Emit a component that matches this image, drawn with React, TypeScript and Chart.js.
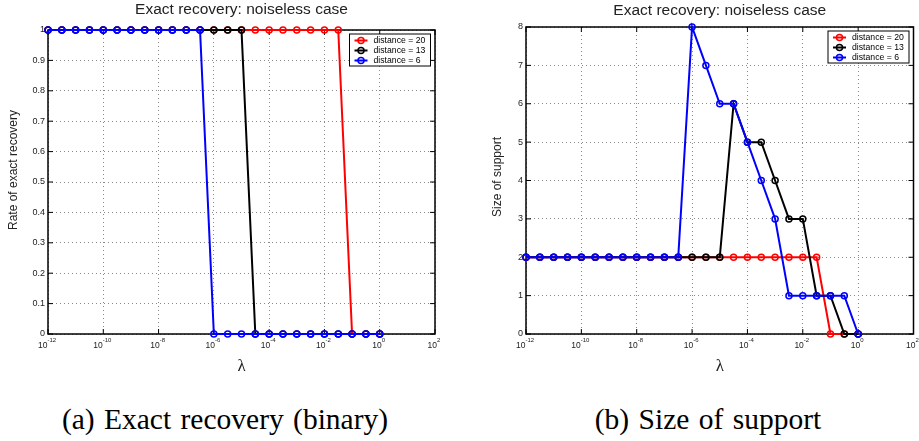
import React, { useEffect, useRef } from 'react';
import { Chart, registerables } from 'chart.js';

Chart.register(...registerables);

// ---------------- data ----------------
const lambdaExponents = [-12, -11.5, -11, -10.5, -10, -9.5, -9, -8.5, -8, -7.5, -7, -6.5, -6, -5.5, -5, -4.5, -4, -3.5, -3, -2.5, -2, -1.5, -1, -0.5, 0];

const seriesLabels = ['distance = 20', 'distance = 13', 'distance = 6'];
const seriesColors = ['#ff0000', '#000000', '#0000ff'];

const recovery20 = [1, 1, 1, 1, 1, 1, 1, 1, 1, 1, 1, 1, 1, 1, 1, 1, 1, 1, 1, 1, 1, 1, 0, 0, 0];
const recovery13 = [1, 1, 1, 1, 1, 1, 1, 1, 1, 1, 1, 1, 1, 1, 1, 0, 0, 0, 0, 0, 0, 0, 0, 0, 0];
const recovery6 = [1, 1, 1, 1, 1, 1, 1, 1, 1, 1, 1, 1, 0, 0, 0, 0, 0, 0, 0, 0, 0, 0, 0, 0, 0];

const support20 = [2, 2, 2, 2, 2, 2, 2, 2, 2, 2, 2, 2, 2, 2, 2, 2, 2, 2, 2, 2, 2, 2, 0, 0, 0];
const support13 = [2, 2, 2, 2, 2, 2, 2, 2, 2, 2, 2, 2, 2, 2, 2, 6, 5, 5, 4, 3, 3, 1, 1, 0, 0];
const support6 = [2, 2, 2, 2, 2, 2, 2, 2, 2, 2, 2, 2, 8, 7, 6, 6, 5, 4, 3, 1, 1, 1, 1, 1, 0];

const xTickExponents = [-12, -10, -8, -6, -4, -2, 0, 2];
const recoveryTicks = [0, 0.1, 0.2, 0.3, 0.4, 0.5, 0.6, 0.7, 0.8, 0.9, 1];
const supportTicks = [0, 1, 2, 3, 4, 5, 6, 7, 8];

const plotTitle = 'Exact recovery: noiseless case';
const xAxisTitle = 'λ';
const captionA = '(a) Exact recovery (binary)';
const captionB = '(b) Size of support';

// ---------------- styling ----------------
const SANS = '"Liberation Sans", Arial, Helvetica, sans-serif';
const SERIF = '"Liberation Serif", "Times New Roman", serif';
const TEXT = '#222';

const decorPlugin = {
  id: 'decor',
  beforeDatasetsDraw(chart: any) {
    const { ctx, chartArea: a } = chart;
    const xs = chart.scales.x;
    const ys = chart.scales.y;
    ctx.save();
    ctx.strokeStyle = '#000';
    ctx.lineWidth = 1;
    ctx.beginPath();
    for (const t of xs.ticks) {
      const px = xs.getPixelForValue(t.value);
      ctx.moveTo(px, a.bottom);
      ctx.lineTo(px, a.bottom - 5);
      ctx.moveTo(px, a.top);
      ctx.lineTo(px, a.top + 5);
    }
    for (const t of ys.ticks) {
      const py = ys.getPixelForValue(t.value);
      ctx.moveTo(a.left, py);
      ctx.lineTo(a.left + 5, py);
      ctx.moveTo(a.right, py);
      ctx.lineTo(a.right - 5, py);
    }
    ctx.stroke();
    ctx.lineWidth = 1.5;
    ctx.strokeRect(a.left, a.top, a.right - a.left, a.bottom - a.top);
    ctx.restore();
  },
  afterDraw(chart: any) {
    const o = chart.options.plugins.decor;
    const { ctx, chartArea: a } = chart;
    const xs = chart.scales.x;
    const cx = (a.left + a.right) / 2;
    ctx.save();
    // title
    ctx.fillStyle = TEXT;
    ctx.font = `15.5px ${SANS}`;
    ctx.textAlign = 'center';
    ctx.textBaseline = 'middle';
    ctx.fillText(o.title, cx, o.titleY);
    // x-axis title
    ctx.font = `17px ${SERIF}`;
    ctx.fillText(o.xTitle, cx, a.bottom + 33);
    // y-axis title
    ctx.save();
    ctx.translate(o.yTitleX, o.yTitleY);
    ctx.rotate(-Math.PI / 2);
    ctx.font = `12px ${SANS}`;
    ctx.fillText(o.yTitle, 0, 0);
    ctx.restore();
    // x tick labels 10^e
    ctx.textAlign = 'left';
    ctx.textBaseline = 'alphabetic';
    for (const e of o.xTicks) {
      const px = xs.getPixelForValue(Math.pow(10, e));
      const base = '10';
      const sup = String(e);
      ctx.font = `8.5px ${SANS}`;
      const w1 = ctx.measureText(base).width;
      ctx.font = `6px ${SANS}`;
      const w2 = ctx.measureText(sup).width;
      const x0 = px - (w1 + w2) / 2 - 1;
      ctx.font = `8.5px ${SANS}`;
      ctx.fillText(base, x0, a.bottom + 14);
      ctx.font = `6px ${SANS}`;
      ctx.fillText(sup, x0 + w1, a.bottom + 8);
    }
    // legend
    const bw = 81;
    const bh = 32;
    const bx = a.right - 4.5 - bw;
    const by = a.top + 4;
    ctx.fillStyle = '#fff';
    ctx.fillRect(bx, by, bw, bh);
    ctx.strokeStyle = '#000';
    ctx.lineWidth = 1;
    ctx.strokeRect(bx, by, bw, bh);
    chart.data.datasets.forEach((ds: any, i: number) => {
      const y = by + 6.5 + i * 10;
      ctx.strokeStyle = ds.borderColor;
      ctx.lineWidth = 2;
      ctx.beginPath();
      ctx.moveTo(bx + 5, y);
      ctx.lineTo(bx + 18, y);
      ctx.stroke();
      ctx.lineWidth = 1.5;
      ctx.beginPath();
      ctx.arc(bx + 11.5, y, 3, 0, Math.PI * 2);
      ctx.stroke();
      ctx.fillStyle = '#000';
      ctx.font = `8.7px ${SANS}`;
      ctx.textBaseline = 'middle';
      ctx.fillText(ds.label, bx + 24, y + 0.5);
    });
    ctx.restore();
  },
};

interface PanelProps {
  series: number[][];
  yTicks: number[];
  yTitle: string;
  width: number;
  height: number;
  area: { left: number; right: number; top: number; bottom: number };
  titleY: number;
  yTitleX: number;
  yTitleY: number;
}

function Panel(p: PanelProps) {
  const ref = useRef<HTMLCanvasElement | null>(null);
  useEffect(() => {
    if (!ref.current) return;
    const datasets = p.series.map((vals, i) => ({
      label: seriesLabels[i],
      data: lambdaExponents.map((e, j) => ({ x: Math.pow(10, e), y: vals[j] })),
      borderColor: seriesColors[i],
      backgroundColor: 'rgba(0,0,0,0)',
      pointBackgroundColor: 'rgba(0,0,0,0)',
      pointBorderColor: seriesColors[i],
      pointRadius: 3,
      pointBorderWidth: 1.5,
      borderWidth: 2,
      tension: 0,
      clip: false as any,
      order: p.series.length - i,
    }));
    const chart = new Chart(ref.current, {
      type: 'line',
      data: { datasets },
      plugins: [decorPlugin as any],
      options: {
        animation: false,
        responsive: false,
        events: [],
        layout: {
          padding: {
            left: 0,
            top: p.area.top,
            right: p.width - p.area.right,
            bottom: p.height - p.area.bottom,
          },
        },
        scales: {
          x: {
            type: 'logarithmic',
            min: 1e-12,
            max: 1e2,
            ticks: { display: false },
            grid: { color: '#8a8a8a', lineWidth: 1, drawTicks: false },
            border: { display: false, dash: [1, 3] },
            afterBuildTicks: (s: any) => {
              s.ticks = xTickExponents.map((e) => ({ value: Math.pow(10, e) }));
            },
            afterFit: (s: any) => {
              s.height = 0;
            },
          },
          y: {
            type: 'linear',
            min: p.yTicks[0],
            max: p.yTicks[p.yTicks.length - 1],
            ticks: {
              padding: 3,
              color: TEXT,
              font: { family: SANS, size: 9 },
              callback: (v: any) => String(v),
            },
            grid: { color: '#8a8a8a', lineWidth: 1, drawTicks: false },
            border: { display: false, dash: [1, 3] },
            afterBuildTicks: (s: any) => {
              s.ticks = p.yTicks.map((v) => ({ value: v }));
            },
            afterFit: (s: any) => {
              s.width = p.area.left;
            },
          },
        },
        plugins: {
          legend: { display: false },
          tooltip: { enabled: false },
          title: { display: false },
          decor: {
            title: plotTitle,
            xTitle: xAxisTitle,
            yTitle: p.yTitle,
            titleY: p.titleY,
            yTitleX: p.yTitleX,
            yTitleY: p.yTitleY,
            xTicks: xTickExponents,
          },
        } as any,
      },
    });
    return () => chart.destroy();
  }, []);
  return (
    <canvas
      ref={ref}
      width={p.width}
      height={p.height}
      style={{ width: p.width, height: p.height, display: 'block' }}
    />
  );
}

export default function App() {
  const captionStyle: React.CSSProperties = {
    position: 'absolute',
    top: 404.5,
    fontFamily: SERIF,
    fontSize: 29.5,
    lineHeight: '29.5px',
    wordSpacing: 2,
    color: '#000',
    whiteSpace: 'nowrap',
    textAlign: 'center',
    width: 460,
  };
  return (
    <div style={{ position: 'absolute', left: 0, top: 0, width: 919, height: 441, background: '#fff', overflow: 'hidden' }}>
      <div style={{ position: 'absolute', left: 0, top: 0 }}>
        <Panel
          series={[recovery20, recovery13, recovery6]}
          yTicks={recoveryTicks}
          yTitle="Rate of exact recovery"
          width={460}
          height={390}
          area={{ left: 48, right: 435, top: 30, bottom: 334 }}
          titleY={10}
          yTitleX={14}
          yTitleY={170}
        />
      </div>
      <div style={{ position: 'absolute', left: 460, top: 0 }}>
        <Panel
          series={[support20, support13, support6]}
          yTicks={supportTicks}
          yTitle="Size of support"
          width={459}
          height={390}
          area={{ left: 66, right: 456, top: 27, bottom: 334 }}
          titleY={11}
          yTitleX={38}
          yTitleY={177}
        />
      </div>
      <div style={{ ...captionStyle, left: 225 - 230 }}>{captionA}</div>
      <div style={{ ...captionStyle, left: 708 - 230 }}>{captionB}</div>
    </div>
  );
}
